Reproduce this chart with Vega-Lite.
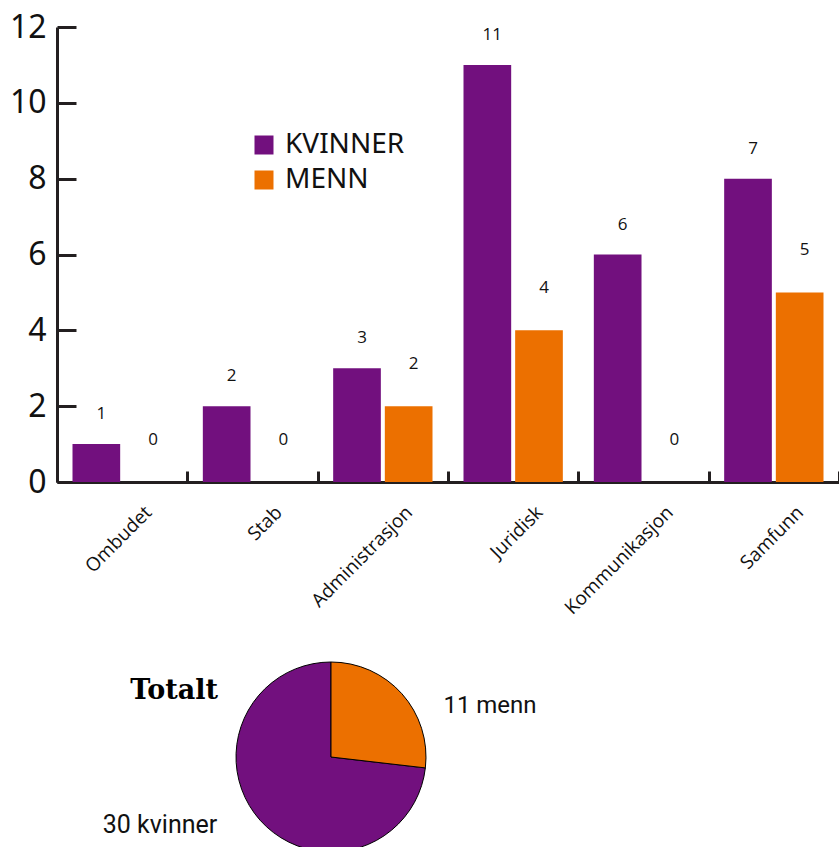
{
  "$schema": "https://vega.github.io/schema/vega-lite/v6.json",
  "padding": {"left": 9, "top": 11, "right": 0, "bottom": 0},
  "background": "white",
  "config": {"view": {"stroke": null}, "font": "Noto Sans"},
  "datasets": {
    "avdelinger": [
      {"avdeling": "Ombudet", "kjonn": "Kvinner", "antall": 1, "etikett": "1"},
      {"avdeling": "Ombudet", "kjonn": "Menn", "antall": 0, "etikett": "0"},
      {"avdeling": "Stab", "kjonn": "Kvinner", "antall": 2, "etikett": "2"},
      {"avdeling": "Stab", "kjonn": "Menn", "antall": 0, "etikett": "0"},
      {"avdeling": "Administrasjon", "kjonn": "Kvinner", "antall": 3, "etikett": "3"},
      {"avdeling": "Administrasjon", "kjonn": "Menn", "antall": 2, "etikett": "2"},
      {"avdeling": "Juridisk", "kjonn": "Kvinner", "antall": 11, "etikett": "11"},
      {"avdeling": "Juridisk", "kjonn": "Menn", "antall": 4, "etikett": "4"},
      {"avdeling": "Kommunikasjon", "kjonn": "Kvinner", "antall": 6, "etikett": "6"},
      {"avdeling": "Kommunikasjon", "kjonn": "Menn", "antall": 0, "etikett": "0"},
      {"avdeling": "Samfunn", "kjonn": "Kvinner", "antall": 8, "etikett": "7"},
      {"avdeling": "Samfunn", "kjonn": "Menn", "antall": 5, "etikett": "5"}
    ],
    "totalt": [
      {"kjonn": "Kvinner", "antall": 30, "tekst": "30 kvinner"},
      {"kjonn": "Menn", "antall": 11, "tekst": "11 menn"}
    ],
    "tittel": [{"tekst": "Totalt"}]
  },
  "vconcat": [
    {
      "width": 782,
      "height": 455,
      "data": {"name": "avdelinger"},
      "encoding": {
        "x": {
          "field": "avdeling",
          "type": "nominal",
          "sort": ["Ombudet", "Stab", "Administrasjon", "Juridisk", "Kommunikasjon", "Samfunn"],
          "scale": {"paddingInner": 0, "paddingOuter": 0},
          "axis": {
            "title": null,
            "tickBand": "extent",
            "tickSize": -11,
            "tickWidth": 3,
            "tickColor": "#231f20",
            "domainWidth": 3,
            "domainColor": "#231f20",
            "labelAngle": -45,
            "labelAlign": "right",
            "labelBaseline": "middle",
            "labelPadding": 38,
            "labelOffset": 26,
            "labelFontSize": 19,
            "labelFont": "Open Sans",
            "labelColor": "#111111"
          }
        },
        "xOffset": {
          "field": "kjonn",
          "type": "nominal",
          "sort": ["Kvinner", "Menn"],
          "scale": {"paddingInner": 0.077, "paddingOuter": 0.3}
        },
        "y": {
          "field": "antall",
          "type": "quantitative",
          "scale": {"domain": [0, 12], "nice": false},
          "axis": {
            "title": null,
            "values": [0, 2, 4, 6, 8, 10, 12],
            "grid": false,
            "tickSize": -19,
            "tickWidth": 3,
            "tickColor": "#231f20",
            "domainWidth": 3,
            "domainColor": "#231f20",
            "labelFontSize": 32,
            "labelFont": "Noto Sans",
            "labelPadding": 30,
            "labelColor": "#111111"
          }
        }
      },
      "layer": [
        {
          "mark": {"type": "bar"},
          "encoding": {
            "color": {
              "field": "kjonn",
              "type": "nominal",
              "scale": {"domain": ["Kvinner", "Menn"], "range": ["#72107e", "#ec7000"]},
              "legend": {
                "title": null,
                "orient": "none",
                "legendX": 193,
                "legendY": 104,
                "symbolType": "square",
                "symbolSize": 361,
                "symbolStrokeWidth": 0,
                "labelFontSize": 28,
                "labelFont": "Noto Sans",
                "labelOffset": 7,
                "rowPadding": 7,
                "labelColor": "#111111",
                "labelExpr": "upper(datum.label)"
              }
            }
          }
        },
        {
          "transform": [{"filter": "datum.kjonn === 'Kvinner'"}],
          "mark": {"type": "text", "dy": -30, "dx": 5, "fontSize": 17, "font": "Open Sans", "color": "#111111"},
          "encoding": {"text": {"field": "etikett"}}
        },
        {
          "transform": [{"filter": "datum.kjonn === 'Menn'"}],
          "mark": {"type": "text", "dy": -42, "dx": 5, "fontSize": 17, "font": "Open Sans", "color": "#111111"},
          "encoding": {"text": {"field": "etikett"}}
        }
      ]
    },
    {
      "width": 548,
      "height": 190,
      "layer": [
        {
          "data": {"name": "totalt"},
          "mark": {"type": "arc", "radius": 95, "stroke": "#000000", "strokeWidth": 1},
          "encoding": {
            "theta": {"field": "antall", "type": "quantitative"},
            "color": {
              "field": "kjonn",
              "type": "nominal",
              "scale": {"domain": ["Kvinner", "Menn"], "range": ["#72107e", "#ec7000"]},
              "legend": null
            },
            "order": {"field": "kjonn", "sort": "descending"}
          }
        },
        {
          "data": {"name": "totalt"},
          "transform": [{"filter": "datum.kjonn === 'Menn'"}],
          "mark": {"type": "text", "dx": 159, "dy": -51, "fontSize": 24, "font": "Roboto", "color": "#111111"},
          "encoding": {"text": {"field": "tekst"}}
        },
        {
          "data": {"name": "totalt"},
          "transform": [{"filter": "datum.kjonn === 'Kvinner'"}],
          "mark": {"type": "text", "dx": -171, "dy": 68, "fontSize": 25, "font": "Roboto", "color": "#111111"},
          "encoding": {"text": {"field": "tekst"}}
        },
        {
          "data": {"name": "tittel"},
          "mark": {"type": "text", "dx": -157, "dy": -66, "fontSize": 27, "font": "DejaVu Serif", "fontWeight": "bold", "color": "#000000"},
          "encoding": {"text": {"field": "tekst"}}
        }
      ]
    }
  ],
  "spacing": 180,
  "bounds": "flush",
  "resolve": {"scale": {"color": "independent"}}
}
